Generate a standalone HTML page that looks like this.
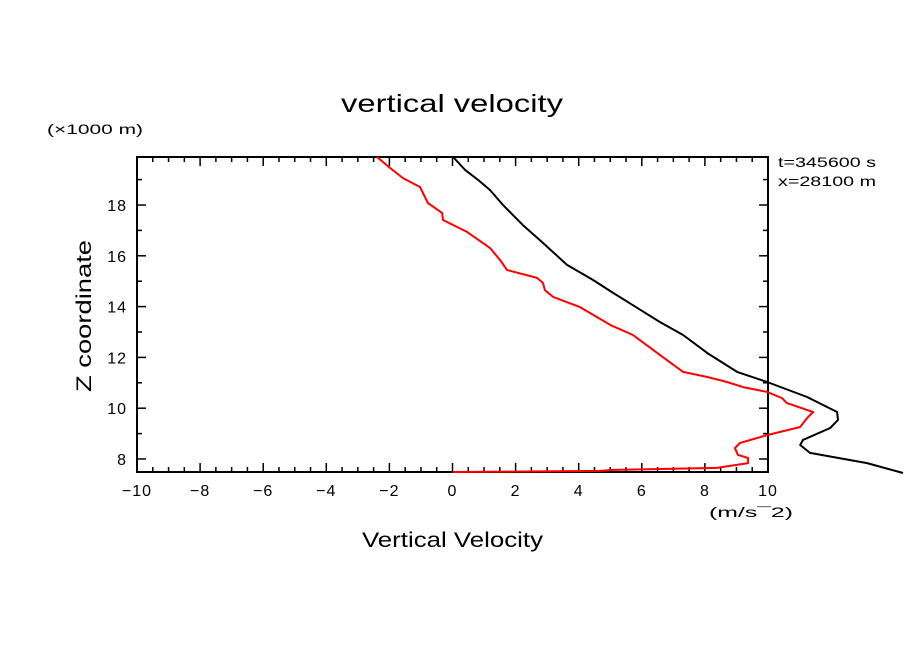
<!DOCTYPE html>
<html><head><meta charset="utf-8"><style>
body{margin:0;background:#fff}
svg text{font-family:"Liberation Sans",sans-serif;fill:#000}
</style></head><body>
<svg id="c" width="904" height="654" xmlns="http://www.w3.org/2000/svg">
<rect width="904" height="654" fill="#fff"/>
<text x="341" y="112" font-size="25" textLength="222" lengthAdjust="spacingAndGlyphs">vertical velocity</text>
<text x="47" y="134" font-size="14" textLength="96" lengthAdjust="spacingAndGlyphs">(×1000 m)</text>
<text x="778" y="167" font-size="14" textLength="98" lengthAdjust="spacingAndGlyphs">t=345600 s</text>
<text x="778" y="186" font-size="14" textLength="98" lengthAdjust="spacingAndGlyphs">x=28100 m</text>
<text x="362" y="547" font-size="21" textLength="181" lengthAdjust="spacingAndGlyphs">Vertical Velocity</text>
<text x="709" y="517" font-size="14" textLength="84" lengthAdjust="spacingAndGlyphs">(m/s¯2)</text>
<text transform="translate(91,392) rotate(-90)" font-size="21" textLength="152" lengthAdjust="spacingAndGlyphs">Z coordinate</text>
<g id="axes"></g>
<g id="series"></g>
</svg>
<script>
const xTicks=[-10,-8,-6,-4,-2,0,2,4,6,8,10];
const yTicks=[8,10,12,14,16,18];
const blackX=[0.02,0.40,0.81,1.19,1.60,2.23,2.84,3.63,4.45,5.09,6.58,7.31,8.08,9.02,9.97,11.24,12.19,12.22,11.97,11.11,11.02,11.33,13.14,14.28];
const blackZ=[19.89,19.38,18.99,18.59,18.00,17.21,16.54,15.64,15.05,14.54,13.39,12.88,12.17,11.43,11.03,10.44,9.85,9.54,9.22,8.75,8.55,8.24,7.84,7.45];
const redX=[-2.39,-1.98,-1.57,-1.03,-0.78,-0.33,-0.30,0.46,1.19,1.51,1.73,2.68,2.87,2.93,3.19,4.04,5.00,5.72,6.58,7.31,8.08,8.70,9.21,9.97,10.44,10.60,11.43,11.24,11.02,9.97,9.11,8.95,9.05,9.37,9.37,8.38,6.80,5.09,4.68,0];
const redZ=[19.89,19.46,19.06,18.71,18.08,17.69,17.41,16.94,16.31,15.83,15.44,15.13,14.93,14.65,14.38,13.98,13.28,12.88,12.09,11.43,11.23,11.03,10.83,10.64,10.40,10.20,9.85,9.61,9.26,8.94,8.63,8.43,8.16,8.04,7.84,7.65,7.61,7.57,7.53,7.49];
const L=137,R=768,T=157,B=472;
const xs=v=>452.5+v*31.55;
const ys=v=>459-(v-8)*25.4;
const NS="http://www.w3.org/2000/svg";
const ax=document.getElementById('axes'),se=document.getElementById('series');
function mk(tag,at,p){const e=document.createElementNS(NS,tag);for(const k in at)e.setAttribute(k,at[k]);p.appendChild(e);return e;}
function ln(x1,y1,x2,y2,w){return mk('line',{x1,y1,x2,y2,stroke:'#000','stroke-width':w},ax);}
for(let v=-10;v<=10.001;v+=0.5){const x=xs(v);const major=Math.abs(v-Math.round(v/2)*2)<1e-6;const len=major?9:5;
 const a=ln(x,B,x,B-len,1.5);
 const b=ln(x,T,x,T+len,1.5);}
for(let v=8;v<=19;v+=1){const y=ys(v);const len=(v%2===0)?9:5;
 const a=ln(L,y,L+len,y,1.5);
 const b=ln(R,y,R-len,y,1.5);}
const fr=mk('rect',{x:L,y:T,width:R-L,height:B-T,fill:'none',stroke:'#000','stroke-width':2},ax);

xTicks.forEach(v=>{const t=mk('text',{x:xs(v),y:496,'font-size':16,'text-anchor':'middle','letter-spacing':'1'},ax);t.textContent=(v<0?'−':'')+Math.abs(v);
 });
yTicks.forEach(v=>{const t=mk('text',{x:127,y:ys(v)+6,'font-size':16,'text-anchor':'end','letter-spacing':'1'},ax);t.textContent=v;
 });
function path(X,Z,col,name){const d=X.map((v,i)=>(i?'L':'M')+xs(v).toFixed(1)+','+ys(Z[i]).toFixed(1)).join('');
 const p=mk('path',{d,fill:'none',stroke:col,'stroke-width':2,'stroke-linejoin':'round'},se);
 }
path(blackX,blackZ,'#000','black-profile-line');
path(redX,redZ,'#f00','red-profile-line');
</script>
</body></html>
